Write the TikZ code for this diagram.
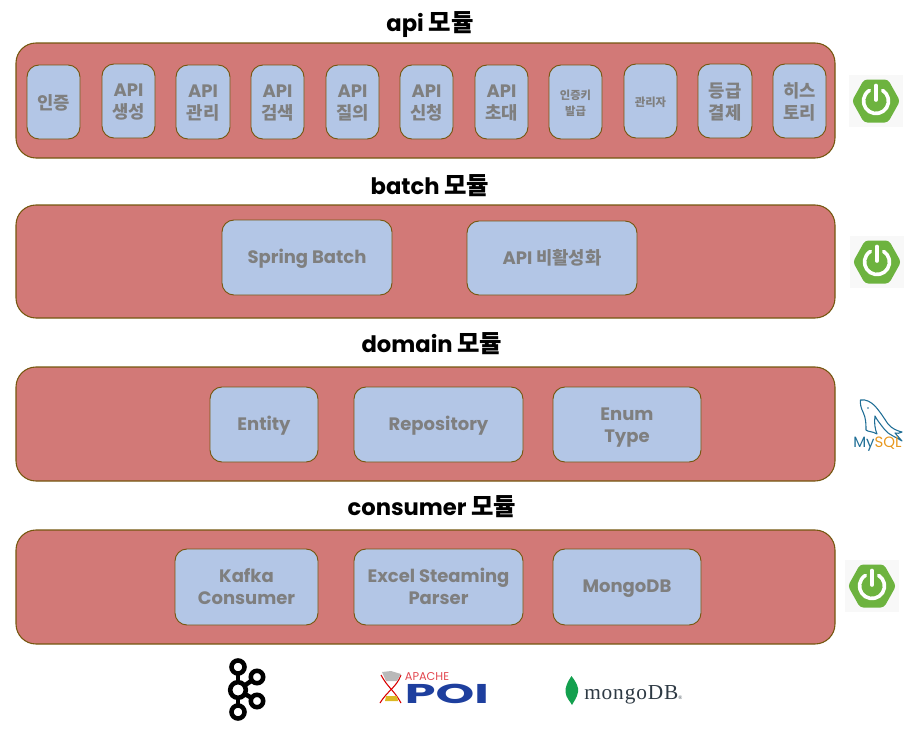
\documentclass[tikz,border=0pt]{standalone}
\usepackage{fontspec}
\usepackage{graphicx}
\setmainfont{Poppins}
\newfontfamily\kofont{Noto Sans CJK KR}
\newfontfamily\monfont[LetterSpace=4]{Liberation Serif}
\definecolor{outerfill}{HTML}{D27977}
\definecolor{edgecol}{HTML}{75570F}
\definecolor{innerfill}{HTML}{B3C6E6}
\definecolor{textgrey}{HTML}{7F7F7F}
\definecolor{springgreen}{HTML}{6DB33F}
\definecolor{logobg}{HTML}{F8F8F8}
\definecolor{dolphin}{HTML}{1F6E96}
\definecolor{sqlorange}{HTML}{E8981F}
\definecolor{poiblue}{HTML}{1E3F9E}
\definecolor{poired}{HTML}{E2474F}
\definecolor{leafgreen}{HTML}{13A04E}
\definecolor{mongotext}{HTML}{2E3A44}
\newcommand{\ko}[1]{{\kofont\bfseries\fontsize{18.3}{20}\selectfont #1}}
\newcommand{\kom}[1]{{\kofont\bfseries\fontsize{13.3}{16.5}\selectfont #1}}
\newcommand{\kotn}[1]{{\kofont\bfseries\fontsize{8.5}{12}\selectfont #1}}
\tikzset{
  module/.style={draw=edgecol,fill=outerfill,line width=.8pt,rounded corners=15pt},
  inner/.style={draw=edgecol,fill=innerfill,line width=.7pt,rounded corners=9pt},
  innertext/.style={text=textgrey,align=center,font=\bfseries\fontsize{13.5}{16.5}\selectfont,inner sep=0pt,yshift=-1pt},
  titletext/.style={font=\bfseries\fontsize{17}{20}\selectfont,text=black,inner sep=0pt,yshift=-1pt},
  logotext/.style={inner sep=0pt}
}
% [text dy], name, x1, y1, x2, y2, text
\newcommand{\ibox}[7][0]{%
  \path[inner] (#3,#4) rectangle (#5,#6);
  \node[innertext] (#2) at ({(#3+#5)/2},{(#4+#6)/2+#1}) {#7};}
\newcommand{\springlogo}[2]{%
  \begin{scope}[shift={(#1,#2)}]
    \fill[logobg] (-27,-26) rectangle (27,26);
    \fill[springgreen,rounded corners=2.5pt] (-24,0) -- (-12,-21.5) -- (12,-21.5) -- (24,0) -- (12,21.5) -- (-12,21.5) -- cycle;
    \draw[white,line width=2.7pt,line cap=round] (-58:12.5) arc[start angle=-58,end angle=238,radius=12.5];
    \draw[white,line width=2.7pt,line cap=round] (0,-15.5) -- (0,-1);
  \end{scope}}
\begin{document}
\begin{tikzpicture}[x=.75pt,y=-.75pt]
\useasboundingbox (0,0) rectangle (915,732);
% modules
\path[module] (16,43) rectangle (835,158);
\path[module] (16,205) rectangle (835,318);
\path[module] (16,367) rectangle (835,481);
\path[module] (16,530) rectangle (835,644);
% titles
\node[titletext] (t1) at (430,23) {api \ko{모듈}};
\node[titletext] (t2) at (430,184.5) {batch \ko{모듈}};
\node[titletext] (t3) at (432,342.5) {domain \ko{모듈}};
\node[titletext] (t4) at (432,505.5) {consumer \ko{모듈}};
% api
\ibox{a1}{27}{65}{80}{139}{\kom{인증}}
\ibox{a2}{102}{64}{155}{138}{API\\\kom{생성}}
\ibox{a3}{176}{65}{230}{139}{API\\\kom{관리}}
\ibox{a4}{251}{65}{304}{139}{API\\\kom{검색}}
\ibox{a5}{326}{65}{379}{139}{API\\\kom{질의}}
\ibox{a6}{400}{65}{453}{139}{API\\\kom{신청}}
\ibox{a7}{475}{65}{528}{139}{API\\\kom{초대}}
\ibox{a8}{549}{65}{602}{139}{\kotn{인증키}\\[-4.5pt]\kotn{발급}}
\ibox{a9}{624}{64}{677}{138}{\kotn{관리자}}
\ibox{a10}{698}{64}{752}{138}{\kom{등급}\\\kom{결제}}
\ibox{a11}{773}{64}{826}{138}{\kom{히스}\\\kom{토리}}
% batch
\ibox{b1}{222}{220}{392}{295}{Spring Batch}
\ibox[-2]{b2}{467}{221}{637}{295}{API \kom{비활성화}}
% domain
\ibox{d1}{210}{387}{318}{462}{Entity}
\ibox{d2}{354}{387}{523}{462}{Repository}
\ibox[1.5]{d3}{553}{387}{701}{462}{Enum\\Type}
% consumer
\ibox[-2]{c1}{175}{549}{318}{625}{Kafka\\Consumer}
\ibox[-2]{c2}{354}{549}{523}{625}{Excel Steaming\\Parser}
\ibox{c3}{553}{549}{701}{625}{MongoDB}
% spring logos
\springlogo{876}{101}
\springlogo{877}{262}
\springlogo{872}{586}
% mysql
\draw[dolphin,line width=.8pt,line join=round,fill=white] (860.5,400) .. controls (866,399) and (871,402) .. (875,406) .. controls (881,413) and (884,418) .. (888,424) .. controls (892,429) and (898,431) .. (902,432) .. controls (900,434) and (897,433) .. (895,433) .. controls (897,436) and (900,438) .. (902,441) .. controls (896,437) and (889,435) .. (885,430) .. controls (881,425) and (877,420) .. (875,416) .. controls (874,423) and (875,429) .. (877,434) .. controls (872,431) and (868,432) .. (866,430) .. controls (866,424) and (866,418) .. (863,412) .. controls (861,408) and (860,404) .. (860.5,400) -- cycle;
\fill[dolphin] (868,408) circle[radius=.8];
\node[logotext,font=\fontsize{11.2}{12}\selectfont] (mysql) at (877.5,444.5) {\textcolor{dolphin}{My}\textcolor{sqlorange}{SQL}};
% kafka
\draw[black,line width=3.4pt] (238,667) -- (238,712);
\draw[black,line width=3.4pt] (238,690) -- (257,677);
\draw[black,line width=3.4pt] (238,690) -- (257,701);
\foreach \kx/\ky/\kr in {238/667/6.5,238/712/6.5,257/677/6.2,257/701/6.2,238/690/7.8}{
  \draw[black,line width=3.4pt,fill=white] (\kx,\ky) circle[radius=\kr];
}
% POI
\draw[red!85!black,line width=.8pt] (381,675) .. controls (388,688) and (394,690) .. (401,703);
\draw[red!85!black,line width=.8pt] (401,675) .. controls (396,688) and (388,690) .. (380,703);
\fill[gray!55] (382,672) -- (391,671) -- (401,674) -- (397,681) -- (386,681) -- cycle;
\fill[brown!55!yellow] (386,696) -- (397,696) -- (398,701) -- (385,701) -- cycle;
\node[logotext,text=poired,font=\fontsize{8.5}{10}\selectfont] (apache) at (427,677) {APACHE};
\node[logotext,text=poiblue] (poi) at (447,693.5) {\resizebox{63pt}{14.5pt}{\bfseries POI}};
% mongodb
\fill[leafgreen] (571.5,676) .. controls (576,682) and (579,687) .. (578,692) .. controls (577,698) and (574,701) .. (572,705) .. controls (570,701) and (566,698) .. (565.5,692) .. controls (565,687) and (568,681) .. (571.5,676) -- cycle;
\node[logotext,text=mongotext,font=\fontsize{16}{18}\selectfont\monfont,anchor=west] (mongo) at (584,695) {mongoDB\fontsize{4}{4}\selectfont ®};
\end{tikzpicture}
\end{document}
